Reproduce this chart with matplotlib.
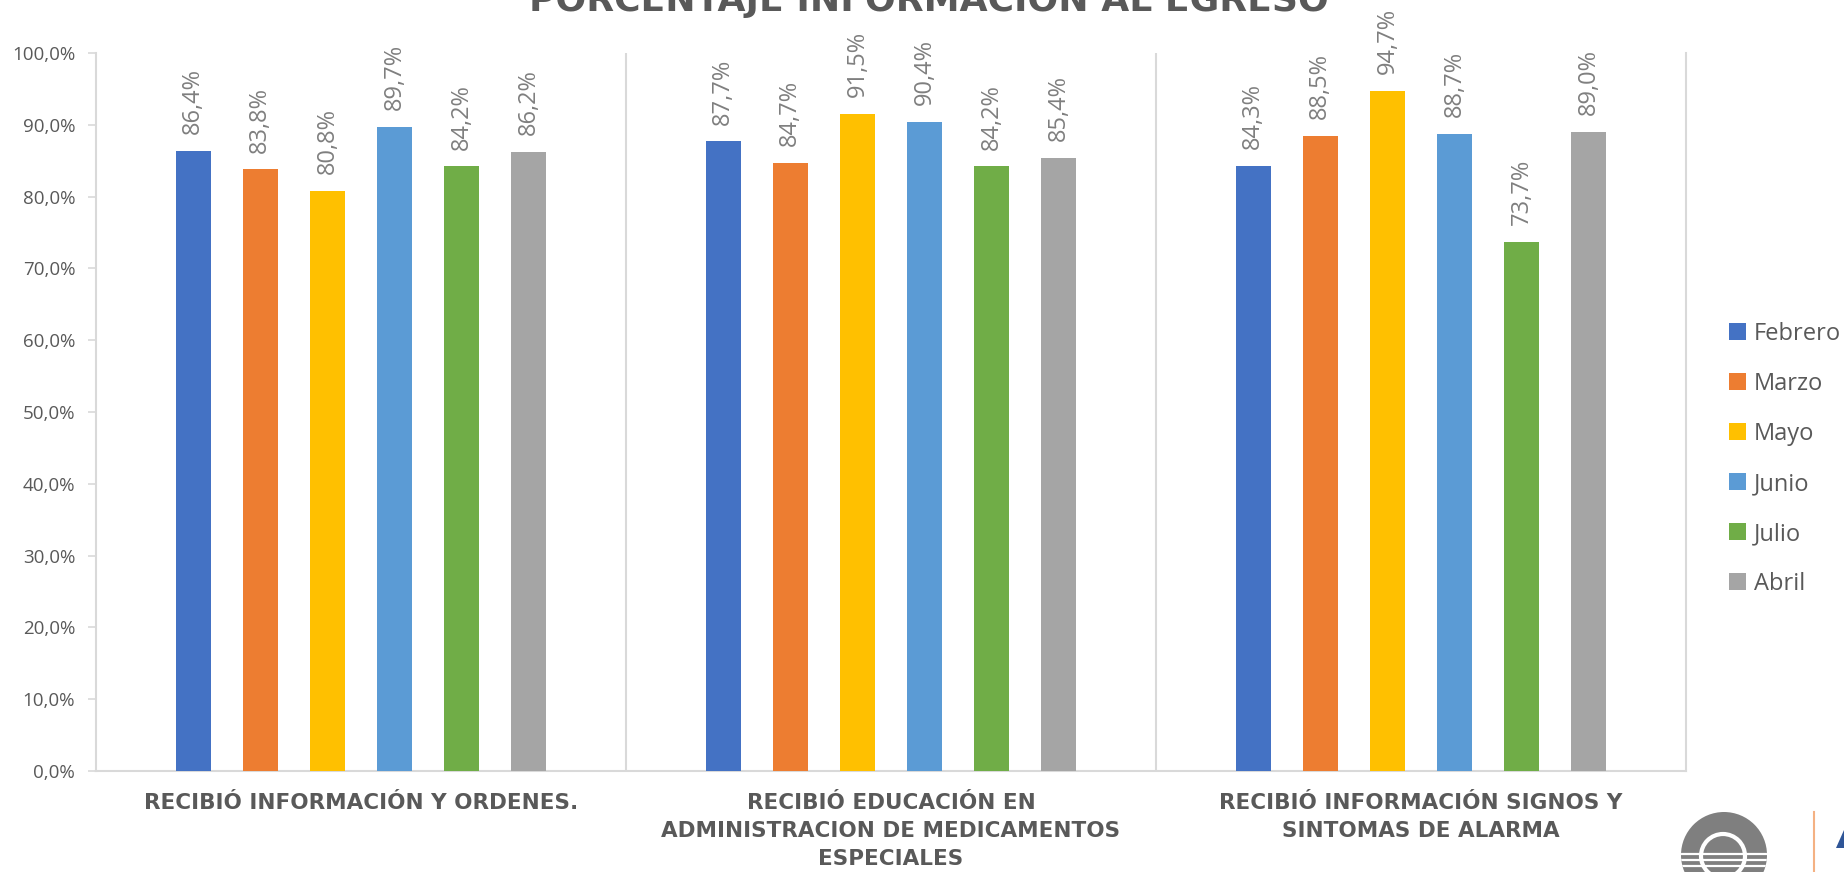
import matplotlib
matplotlib.use("Agg")
import matplotlib.pyplot as plt
from matplotlib.patches import Circle, Polygon
from matplotlib.lines import Line2D
import numpy as np

categories = ["RECIBIÓ INFORMACIÓN Y ORDENES.",
              "RECIBIÓ EDUCACIÓN EN\nADMINISTRACION DE MEDICAMENTOS\nESPECIALES",
              "RECIBIÓ INFORMACIÓN SIGNOS Y\nSINTOMAS DE ALARMA"]
series = ["Febrero", "Marzo", "Mayo", "Junio", "Julio", "Abril"]
febrero = [86.4, 87.7, 84.3]
marzo = [83.8, 84.7, 88.5]
mayo = [80.8, 91.5, 94.7]
junio = [89.7, 90.4, 88.7]
julio = [84.2, 84.2, 73.7]
abril = [86.2, 85.4, 89.0]
values = [febrero, marzo, mayo, junio, julio, abril]
colors = ["#4472C4", "#ED7D31", "#FFC000", "#5B9BD5", "#70AD47", "#A5A5A5"]
title = "PORCENTAJE INFORMACIÓN AL EGRESO"

W, H = 1844, 872
fig = plt.figure(figsize=(W / 100, H / 100), dpi=100)
L, R, T, B = 96, 1686, 53, 771
ax = fig.add_axes([L / W, 1 - B / H, (R - L) / W, (B - T) / H])

x = np.arange(len(categories))
step = 0.1266
width = 0.066
for i, (name, vals, c) in enumerate(zip(series, values, colors)):
    pos = x + (i - 2.5) * step
    ax.bar(pos, vals, width=width, color=c, label=name, zorder=3)
    for xp, v in zip(pos, vals):
        ax.annotate(f"{v:.1f}%".replace(".", ","), (xp, v), xytext=(0, 12),
                    textcoords="offset points", rotation=90, ha="center", va="bottom",
                    fontsize=17, color="#7F7F7F", family="Open Sans")

ax.set_xlim(-0.5, 2.5)
ax.set_ylim(0, 100)
yt = np.arange(0, 101, 10)
ax.set_yticks(yt)
ax.set_yticklabels([f"{t:.1f}%".replace(".", ",") for t in yt], fontsize=13.5,
                   color="#595959", family="Open Sans")
ax.tick_params(axis="y", length=6, color="#D9D9D9", pad=9, width=1.2)
ax.set_xticks(x)
ax.set_xticklabels(categories, fontsize=15.5, fontweight="bold", color="#595959",
                   linespacing=1.5, va="top")
ax.tick_params(axis="x", length=0, pad=16)
for sp in ["left", "bottom", "right"]:
    ax.spines[sp].set_color("#D9D9D9")
    ax.spines[sp].set_linewidth(1.5)
ax.spines["top"].set_visible(False)
for b in [0.5, 1.5]:
    ax.axvline(b, color="#D9D9D9", lw=1.5, zorder=1)

leg = fig.legend(loc="upper left", bbox_to_anchor=(1729 / W, 1 - 322 / H),
                 frameon=False, fontsize=17, handlelength=0.7, handleheight=0.7,
                 handletextpad=0.34, labelspacing=1.1, borderaxespad=0, borderpad=0)
for t in leg.get_texts():
    t.set_color("#595959")
    t.set_family("Open Sans")

fig.text(929 / W, 1 - 11 / H, title, ha="center", va="baseline", fontsize=26,
         fontweight="bold", color="#595959")

# decorative logo fragment in the bottom-right corner (pixel coordinates)
cy = H - 855
outer = Circle((1724, cy), 43, transform=None, facecolor="#7F7F7F", edgecolor="none")
fig.add_artist(outer)
for yy in [cy + 1, cy - 5, cy - 11]:
    ln = Line2D([1681, 1767], [yy, yy], transform=None, color="white", lw=1.6)
    ln.set_clip_path(outer)
    fig.add_artist(ln)
fig.add_artist(Circle((1723, cy - 1), 22, transform=None, facecolor="none",
                      edgecolor="white", lw=3))
fig.add_artist(Line2D([1814, 1814], [0, H - 812], transform=None, color="#F4B183", lw=1.5))
fig.add_artist(Polygon([[1836, H - 848], [1844, H - 830], [1844, H - 848]], closed=True,
                       transform=None, facecolor="#2F5597", edgecolor="none"))

fig.savefig("out.png", dpi=100)
